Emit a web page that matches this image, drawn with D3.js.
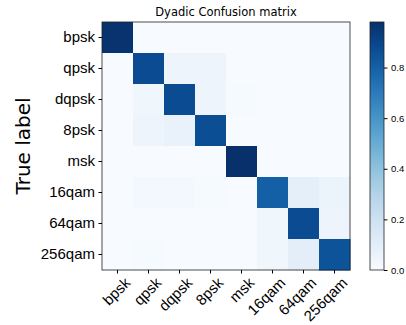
<!DOCTYPE html>
<html>
<head>
<meta charset="utf-8">
<script src="https://cdn.jsdelivr.net/npm/d3@7"></script>
<style>
  body { margin: 0; background: #fff; }
  svg { font-family: "DejaVu Sans", sans-serif; }
</style>
</head>
<body>
<div id="chart"></div>
<script>
// class names, rows = true label, columns = predicted
var classes = ['bpsk', 'qpsk', 'dqpsk', '8psk', 'msk', '16qam', '64qam', '256qam'];

// confusion matrix rows
var rowBpsk   = [0.97, 0.00, 0.00, 0.00, 0.00, 0.00, 0.00, 0.00];
var rowQpsk   = [0.00, 0.88, 0.05, 0.05, 0.00, 0.00, 0.00, 0.00];
var rowDqpsk  = [0.00, 0.04, 0.88, 0.05, 0.01, 0.00, 0.00, 0.00];
var row8psk   = [0.00, 0.05, 0.07, 0.87, 0.00, 0.00, 0.00, 0.00];
var rowMsk    = [0.00, 0.00, 0.00, 0.00, 0.98, 0.00, 0.00, 0.00];
var row16qam  = [0.00, 0.02, 0.02, 0.01, 0.00, 0.80, 0.09, 0.06];
var row64qam  = [0.00, 0.00, 0.00, 0.00, 0.00, 0.04, 0.88, 0.05];
var row256qam = [0.00, 0.01, 0.00, 0.00, 0.00, 0.04, 0.10, 0.85];
var matrix = [rowBpsk, rowQpsk, rowDqpsk, row8psk, rowMsk, row16qam, row64qam, row256qam];

var colorbarTicks = [0.0, 0.2, 0.4, 0.6, 0.8];

var width = 406, height = 325;
var plot = {left: 102, top: 22, size: 248};
var bar = {left: 370, width: 14};

var svg = d3.select('#chart').append('svg')
  .attr('width', width)
  .attr('height', height);

var vmax = d3.max(matrix, function(r) { return d3.max(r); });
var color = d3.scaleSequential(d3.interpolateBlues).domain([0, vmax]);

var x = d3.scaleBand().domain(classes).range([plot.left, plot.left + plot.size]);
var y = d3.scaleBand().domain(classes).range([plot.top, plot.top + plot.size]);

// title
svg.append('text')
  .attr('x', plot.left + plot.size / 2)
  .attr('y', 16)
  .attr('text-anchor', 'middle')
  .style('font-size', '11.5px')
  .text('Dyadic Confusion matrix');

// cells
var cells = [];
matrix.forEach(function(row, i) {
  row.forEach(function(v, j) {
    cells.push({row: classes[i], col: classes[j], value: v});
  });
});

svg.append('g').selectAll('rect')
  .data(cells)
  .enter()
  .append('rect')
    .attr('x', function(d) { return x(d.col); })
    .attr('y', function(d) { return y(d.row); })
    .attr('width', x.bandwidth() + 0.5)
    .attr('height', y.bandwidth() + 0.5)
    .attr('fill', function(d) { return color(d.value); });

// frame
svg.append('rect')
  .attr('x', plot.left)
  .attr('y', plot.top)
  .attr('width', plot.size)
  .attr('height', plot.size)
  .attr('fill', 'none')
  .attr('stroke', '#222')
  .attr('stroke-width', 0.8);

// y axis
var yAxis = svg.append('g')
  .attr('transform', 'translate(' + plot.left + ',0)')
  .call(d3.axisLeft(y).tickSize(3.5).tickPadding(3.5));
yAxis.select('.domain').remove();
yAxis.selectAll('text').style('font-size', '15px').attr('fill', '#000');

// x axis
var xAxis = svg.append('g')
  .attr('transform', 'translate(0,' + (plot.top + plot.size) + ')')
  .call(d3.axisBottom(x).tickSize(3.5).tickPadding(3.5));
xAxis.select('.domain').remove();
xAxis.selectAll('text')
  .style('font-size', '15px')
  .attr('fill', '#000')
  .attr('text-anchor', 'end')
  .attr('dy', '0.9em')
  .attr('transform', 'rotate(-45) translate(0,-1)');

// y label
svg.append('text')
  .attr('transform', 'translate(23,' + (plot.top + plot.size / 2) + ') rotate(-90)')
  .attr('text-anchor', 'middle')
  .attr('dy', '0.35em')
  .style('font-size', '20px')
  .text('True label');

// colorbar
var cScale = d3.scaleLinear().domain([0, vmax]).range([plot.top + plot.size, plot.top]);
var defs = svg.append('defs');
var grad = defs.append('linearGradient')
  .attr('id', 'cbar')
  .attr('x1', 0).attr('y1', 1).attr('x2', 0).attr('y2', 0);
d3.range(0, 1.0001, 0.1).forEach(function(t) {
  grad.append('stop')
    .attr('offset', t)
    .attr('stop-color', d3.interpolateBlues(t));
});
svg.append('rect')
  .attr('x', bar.left)
  .attr('y', plot.top)
  .attr('width', bar.width)
  .attr('height', plot.size)
  .attr('fill', 'url(#cbar)')
  .attr('stroke', '#222')
  .attr('stroke-width', 0.8);

var cAxis = svg.append('g')
  .attr('transform', 'translate(' + (bar.left + bar.width) + ',0)')
  .call(d3.axisRight(cScale).tickValues(colorbarTicks).tickFormat(d3.format('.1f')).tickSize(3.5).tickPadding(3.5));
cAxis.select('.domain').remove();
cAxis.selectAll('text').style('font-size', '9.5px').attr('fill', '#000');
</script>
</body>
</html>
